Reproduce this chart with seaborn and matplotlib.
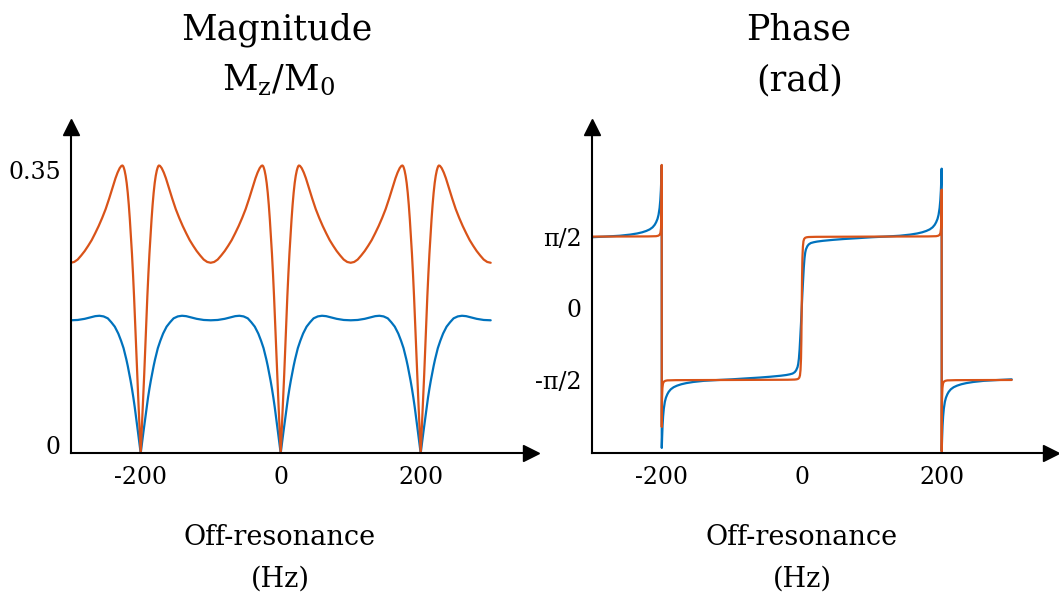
import numpy as np
import matplotlib
matplotlib.use("Agg")
import matplotlib.pyplot as plt
import matplotlib.transforms as mtransforms
import seaborn as sns

# ---------------------------------------------------------------------------
# bSSFP frequency response, TR-periodic: nulls every 200 Hz.
# Magnitude: half-profile from a null (offset 0 Hz) to the mid-point (100 Hz).
# ---------------------------------------------------------------------------
null_freqs_hz = [-200, 0, 200]
freq_range_hz = [-300, 300]

mag_blue_offset = [0, 2, 4, 6, 8.5, 10.5, 12.5, 14.5, 16.5, 18.5, 20.5, 22.5,
                   24.5, 28, 32, 37, 42, 47, 53, 59, 65, 72, 80, 90, 100]
mag_blue = [0.0, 0.014, 0.027, 0.040, 0.057, 0.069, 0.080, 0.090, 0.099,
            0.108, 0.116, 0.123, 0.130, 0.139, 0.148, 0.1565, 0.162, 0.1668,
            0.1692, 0.1700, 0.1695, 0.1680, 0.1662, 0.1648, 0.1644]

mag_orange_offset = [0, 1, 2, 3.5, 5, 6.5, 8, 9.5, 11, 12.5, 14, 15.5, 17,
                     18.5, 20, 21.5, 23, 24, 25, 26, 27.5, 30, 33, 36, 40, 45,
                     50, 55, 60, 65, 70, 75, 80, 85, 90, 95, 100]
mag_orange = [0.0, 0.0195, 0.039, 0.068, 0.097, 0.130, 0.162, 0.194, 0.222,
              0.247, 0.269, 0.289, 0.307, 0.322, 0.334, 0.343, 0.3495, 0.3525,
              0.3548, 0.3557, 0.3553, 0.3525, 0.347, 0.340, 0.329, 0.315,
              0.302, 0.291, 0.281, 0.272, 0.2635, 0.2565, 0.250, 0.2445,
              0.2395, 0.2365, 0.2355]

# Phase: profile from the on-resonance crossing (0 Hz) up to the next null (200 Hz)
ph_blue_offset = [0, 1, 2, 3, 4, 5, 6, 8, 10, 13, 17, 22, 30, 45, 60, 80, 100,
                  120, 140, 155, 165, 172, 178, 183, 187, 190, 192, 194, 195.5,
                  197, 198, 198.8, 199.4, 199.9, 200]
ph_blue = [0.0, 0.33, 0.62, 0.90, 1.10, 1.22, 1.29, 1.36, 1.40, 1.43, 1.447,
           1.462, 1.478, 1.50, 1.518, 1.537, 1.557, 1.572, 1.59, 1.615, 1.64,
           1.665, 1.695, 1.73, 1.775, 1.83, 1.885, 1.96, 2.05, 2.2, 2.37, 2.58,
           2.82, 3.06, 3.13]

ph_orange_offset = [0, 0.5, 1, 1.7, 2.5, 3.5, 5, 7, 10, 20, 100, 180, 192,
                    195, 197, 198.2, 199, 199.5, 199.8, 199.9, 200]
ph_orange = [0.0, 0.7, 1.1, 1.35, 1.47, 1.52, 1.545, 1.556, 1.562, 1.566,
             1.5708, 1.575, 1.58, 1.59, 1.61, 1.65, 1.75, 1.95, 2.25, 2.6,
             3.1416]

mag_ticks = [0, 0.35]
mag_ticklabels = ["0", "0.35"]
phase_ticks = [-np.pi / 2, 0, np.pi / 2]
phase_ticklabels = ["-\u03c0/2", "0", "\u03c0/2"]
freq_ticks = [-200, 0, 200]
freq_ticklabels = ["-200", "0", "200"]

BLUE = "#0072BD"
ORANGE = "#D95319"


def spread_about_nulls(offsets, values, nulls, lo, hi):
    """Mirror a half-profile on both sides of every null."""
    off = np.asarray(offsets, float)
    val = np.asarray(values, float)
    xs = np.concatenate([np.concatenate([c - off[::-1], c + off[1:]]) for c in nulls])
    ys = np.concatenate([np.concatenate([val[::-1], val[1:]]) for c in nulls])
    keep = (xs >= lo) & (xs <= hi)
    xs, ys = xs[keep], ys[keep]
    xs, idx = np.unique(xs, return_index=True)
    return xs, ys[idx]


def phase_curve(offsets, values):
    """Odd-symmetric phase, wrapping from +pi to -pi at the +/-200 Hz nulls."""
    d = np.asarray(offsets, float)
    p = np.asarray(values, float)
    outer = d >= 100
    inner = d < 200
    x = np.concatenate([d[outer] - 400,
                        -d[inner][::-1],
                        d[inner][1:],
                        (400 - d[outer])[::-1]])
    y = np.concatenate([p[outer],
                        -p[inner][::-1],
                        p[inner][1:],
                        (-p[outer])[::-1]])
    return x, y


sns.set_style("white")
plt.rcParams["font.family"] = ["DejaVu Serif"]
plt.rcParams["mathtext.fontset"] = "dejavuserif"
plt.rcParams["text.color"] = "black"

W, H = 1059, 595
fig = plt.figure(figsize=(W / 100, H / 100), dpi=100)


def px_axes(left, right, top, bottom):
    return fig.add_axes([left / W, 1 - bottom / H, (right - left) / W, (bottom - top) / H])


ax_mag = px_axes(70.7, 531, 127, 453.3)
ax_ph = px_axes(591.7, 1051, 127, 453.3)

# Magnitude panel
x, y = spread_about_nulls(mag_blue_offset, mag_blue, null_freqs_hz, *freq_range_hz)
sns.lineplot(x=x, y=y, ax=ax_mag, color=BLUE, linewidth=1.6, sort=False, estimator=None)
x, y = spread_about_nulls(mag_orange_offset, mag_orange, null_freqs_hz, *freq_range_hz)
sns.lineplot(x=x, y=y, ax=ax_mag, color=ORANGE, linewidth=1.6, sort=False, estimator=None)
ax_mag.set_xlim(-300, 357.6)
ax_mag.set_ylim(0, 0.4033)
ax_mag.set_yticks(mag_ticks)
ax_mag.set_yticklabels(mag_ticklabels)

# Phase panel
x, y = phase_curve(ph_blue_offset, ph_blue)
sns.lineplot(x=x, y=y, ax=ax_ph, color=BLUE, linewidth=1.6, sort=False, estimator=None)
x, y = phase_curve(ph_orange_offset, ph_orange)
sns.lineplot(x=x, y=y, ax=ax_ph, color=ORANGE, linewidth=1.6, sort=False, estimator=None)
ax_ph.set_xlim(-300, 356.1)
ax_ph.set_ylim(-3.178, 3.973)
ax_ph.set_yticks(phase_ticks)
ax_ph.set_yticklabels(phase_ticklabels)

for ax in (ax_mag, ax_ph):
    ax.set_xticks(freq_ticks)
    ax.set_xticklabels(freq_ticklabels)
    ax.set_xlabel("")
    ax.set_ylabel("")
    ax.patch.set_alpha(0)
    sns.despine(ax=ax)
    for side in ("left", "bottom"):
        ax.spines[side].set_color("black")
        ax.spines[side].set_linewidth(1.5)
    ax.tick_params(axis="both", length=0, labelsize=17, colors="black")
    ax.tick_params(axis="x", pad=9)
    ax.tick_params(axis="y", pad=7)
    # arrow heads on the axis lines
    ax.plot([0], [1], marker="^", color="black", markersize=11,
            transform=ax.transAxes, clip_on=False)
    ax.plot([1], [0], marker=">", color="black", markersize=11,
            transform=ax.transAxes, clip_on=False)

# lift the "0" magnitude label slightly above the axis line
lbl = ax_mag.get_yticklabels()[0]
lbl.set_transform(lbl.get_transform()
                  + mtransforms.ScaledTranslation(0, 0.08, fig.dpi_scale_trans))


def ftext(xp, yp, s, size):
    fig.text(xp / W, 1 - yp / H, s, ha="center", va="baseline",
             fontsize=size, color="black")


ftext(277, 39.3, "Magnitude", 25)
ftext(279, 90, r"$\mathregular{M_z/M_0}$", 25)
ftext(799, 39.3, "Phase", 25)
ftext(800, 90, "(rad)", 25)
for xc in (280, 802):
    ftext(xc, 545, "Off-resonance", 19.5)
    ftext(xc, 586.7, "(Hz)", 19.5)

fig.savefig("out.png", dpi=100)
